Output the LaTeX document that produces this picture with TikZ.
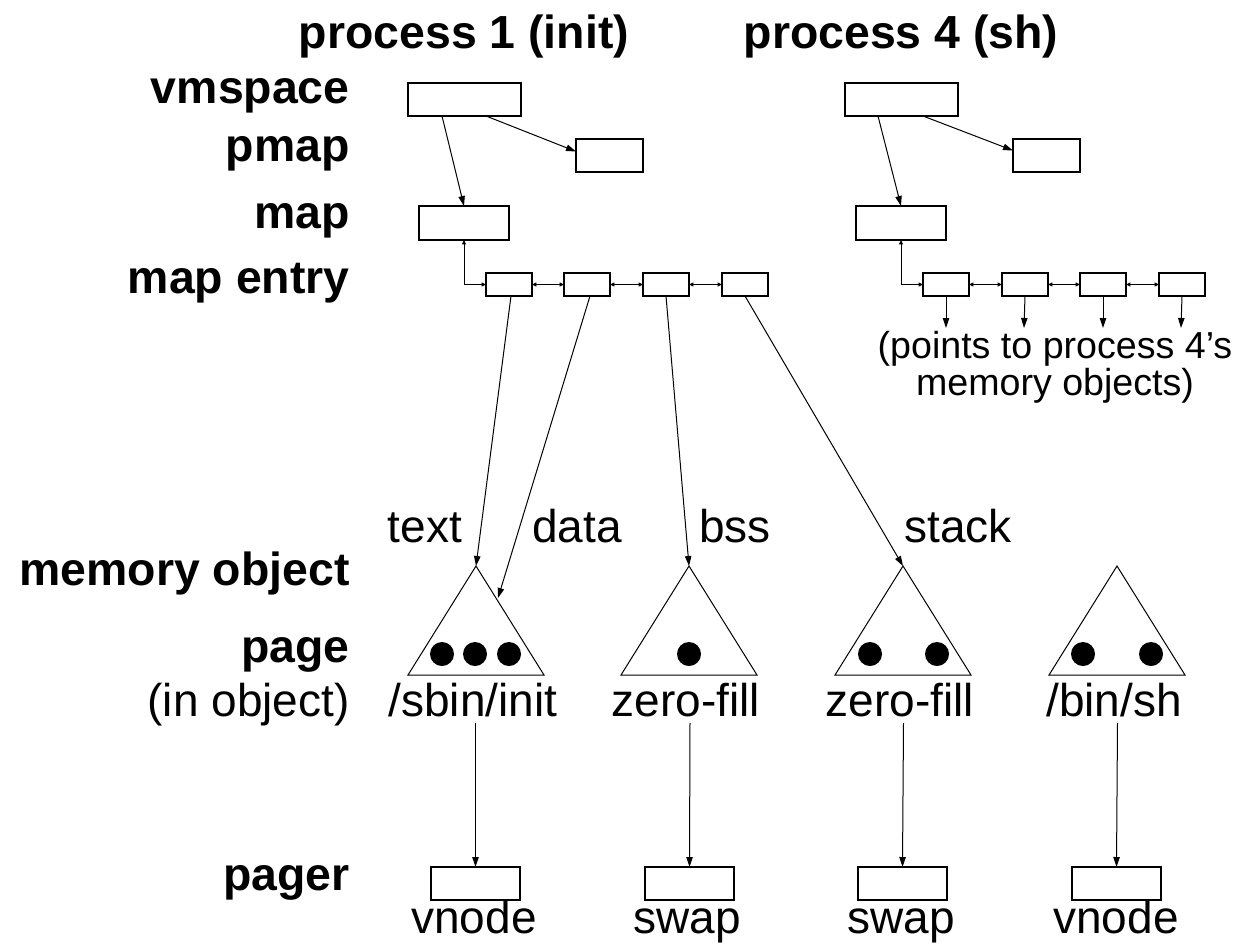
\documentclass[tikz,border=0pt]{standalone}
\usepackage{fontspec}
\setmainfont{Liberation Sans}
\usetikzlibrary{arrows.meta}

\begin{document}
\begin{tikzpicture}[x=0.5pt,y=-0.5pt,
  box/.style={draw, line width=0.75pt, inner sep=0pt, outer sep=0pt, anchor=north west},
  vmbox/.style={box, minimum width=56.5pt, minimum height=16.5pt},
  pmbox/.style={box, minimum width=33.5pt, minimum height=16.5pt},
  mapbox/.style={box, minimum width=45pt, minimum height=17pt},
  entrybox/.style={box, minimum width=23pt, minimum height=11.5pt},
  pagerbox/.style={box, minimum width=44.5pt, minimum height=16.5pt},
  lbl/.style={font=\fontsize{23.2}{27}\selectfont\bfseries, inner sep=0pt},
  txt/.style={font=\fontsize{23}{27}\selectfont, inner sep=0pt},
  note/.style={font=\fontsize{18.8}{17}\selectfont, inner sep=0pt, align=center},
  arr/.style={-{Triangle[length=5pt,width=3.2pt]}, line width=0.5pt},
  link/.style={{Triangle[length=2.2pt,width=2pt]}-{Triangle[length=2.2pt,width=2pt]}, line width=0.5pt},
  obj/.style={line width=0.5pt, line join=miter},
  pg/.style={fill=black}]

\useasboundingbox (0,0) rectangle (1249,944);

% column titles
\node[lbl, anchor=base] (h1) at (464,48) {process 1 (init)};
\node[lbl, anchor=base] (h2) at (901,48) {process 4 (sh)};

% row labels
\node[lbl, anchor=base east] (r1) at (350,103) {vmspace};
\node[lbl, anchor=base east] (r2) at (350,161) {pmap};
\node[lbl, anchor=base east] (r3) at (350,228) {map};
\node[lbl, anchor=base east] (r4) at (350,293) {map entry};
\node[lbl, anchor=base east] (r5) at (350,585) {memory object};
\node[lbl, anchor=base east] (r6) at (350,662) {page};
\node[txt, anchor=base east] (r7) at (350,716) {(in object)};
\node[lbl, anchor=base east] (r8) at (350,890) {pager};

% process 1 structures
\node[vmbox] (vm1) at (408,83) {};
\node[pmbox] (pm1) at (576,139) {};
\node[mapbox] (mp1) at (419,206) {};
\node[entrybox] (e1) at (486,273) {};
\node[entrybox] (e2) at (564,273) {};
\node[entrybox] (e3) at (643,273) {};
\node[entrybox] (e4) at (722,273) {};

\draw[arr] ([xshift=17pt]vm1.south west) -- (mp1.north);
\draw[arr] ([xshift=39pt]vm1.south west) -- ([yshift=2pt]pm1.west);
\draw[link] (e1.west) -| (mp1.south);
\draw[link] (e1.east) -- (e2.west);
\draw[link] (e2.east) -- (e3.west);
\draw[link] (e3.east) -- (e4.west);

% process 4 structures
\node[vmbox] (vm2) at (845,83) {};
\node[pmbox] (pm2) at (1013,139) {};
\node[mapbox] (mp2) at (856,206) {};
\node[entrybox] (f1) at (923,273) {};
\node[entrybox] (f2) at (1002,273) {};
\node[entrybox] (f3) at (1080,273) {};
\node[entrybox] (f4) at (1159,273) {};

\draw[arr] ([xshift=16.5pt]vm2.south west) -- (mp2.north);
\draw[arr] ([xshift=39pt]vm2.south west) -- ([yshift=2.5pt]pm2.west);
\draw[link] (f1.west) -| (mp2.south);
\draw[link] (f1.east) -- (f2.west);
\draw[link] (f2.east) -- (f3.west);
\draw[link] (f3.east) -- (f4.west);

\coordinate (d1) at (946,328);
\coordinate (d2) at (1024,328);
\coordinate (d3) at (1103,328);
\coordinate (d4) at (1181,328);
\draw[arr] (f1.south) -- (d1);
\draw[arr] (f2.south) -- (d2);
\draw[arr] (f3.south) -- (d3);
\draw[arr] (f4.south) -- (d4);

\node[note, anchor=north] (nt) at (1055,331) {(points to process 4's\\memory objects)};

% memory objects
\coordinate (t1) at (476,566);
\coordinate (t2) at (689,566);
\coordinate (t3) at (903,566);
\coordinate (t4) at (1117,566);
\coordinate (dend) at (498,598);

\foreach \t in {t1,t2,t3,t4}
  \draw[obj] (\t) -- ++(-68,109) -- ++(136,0) -- cycle;

\fill[pg] (442,654) circle [radius=6pt];
\fill[pg] (475,654) circle [radius=6pt];
\fill[pg] (509,654) circle [radius=6pt];
\fill[pg] (689,654) circle [radius=6pt];
\fill[pg] (870,654) circle [radius=6pt];
\fill[pg] (937,654) circle [radius=6pt];
\fill[pg] (1083,654) circle [radius=6pt];
\fill[pg] (1151,654) circle [radius=6pt];

\node[txt, anchor=base] (s1) at (425,542) {text};
\node[txt, anchor=base] (s2) at (577,542) {data};
\node[txt, anchor=base] (s3) at (735,542) {bss};
\node[txt, anchor=base] (s4) at (958,542) {stack};

\draw[arr] ([xshift=1pt]e1.south) -- (t1);
\draw[arr] ([xshift=1.5pt]e2.south) -- (dend);
\draw[arr] (e3.south) -- (t2);
\draw[arr] (e4.south) -- (t3);

\node[txt, anchor=base] (o1) at (473,716) {/sbin/init};
\node[txt, anchor=base] (o2) at (686,716) {zero-fill};
\node[txt, anchor=base] (o3) at (900,716) {zero-fill};
\node[txt, anchor=base] (o4) at (1114,716) {/bin/sh};

% pagers
\node[pagerbox] (pg1) at (431,867) {};
\node[pagerbox] (pg2) at (645,867) {};
\node[pagerbox] (pg3) at (858,867) {};
\node[pagerbox] (pg4) at (1072,867) {};

\coordinate (u1) at (475.5,723);
\coordinate (u2) at (690,723);
\coordinate (u3) at (903.5,723);
\coordinate (u4) at (1117.5,723);
\draw[arr] (u1) -- (pg1.north);
\draw[arr] (u2) -- (pg2.north);
\draw[arr] (u3) -- (pg3.north);
\draw[arr] (u4) -- (pg4.north);

\node[txt, anchor=base] (v1) at (474,933) {vnode};
\node[txt, anchor=base] (v2) at (687,933) {swap};
\node[txt, anchor=base] (v3) at (901,933) {swap};
\node[txt, anchor=base] (v4) at (1116,933) {vnode};
\end{tikzpicture}
\end{document}
